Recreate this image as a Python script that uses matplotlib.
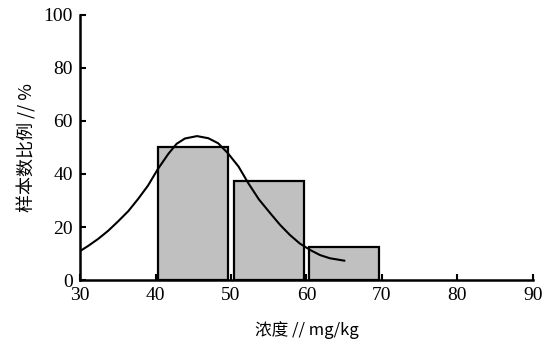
import matplotlib
matplotlib.use('Agg')
import matplotlib.pyplot as plt

# histogram bins (mg/kg) and share of samples (%)
bin_centers = [45, 55, 65]
bin_share = [50.0, 37.5, 12.5]

# fitted curve, points
curve_x = [30.0, 31.1, 32.4, 33.7, 35.0, 36.4, 37.7, 39.0, 40.3, 41.7, 42.8,
           43.9, 45.5, 47.0, 48.3, 49.6, 51.0, 52.3, 53.7, 55.2, 56.5, 57.8,
           59.1, 60.5, 61.8, 63.1, 65.0]
curve_y = [10.9, 12.9, 15.5, 18.5, 22.0, 26.0, 30.6, 35.6, 41.8, 47.6, 51.4,
           53.4, 54.3, 53.5, 51.6, 47.8, 42.8, 36.5, 30.4, 25.2, 20.8, 17.0,
           13.8, 11.3, 9.4, 8.2, 7.3]

xticks = [30, 40, 50, 60, 70, 80, 90]
yticks = [0, 20, 40, 60, 80, 100]

cjk = ['Noto Sans CJK SC', 'DejaVu Sans']
num_font = 'Liberation Serif'

fig = plt.figure(figsize=(5.56, 3.48), dpi=100)
ax = fig.add_axes([0.1439, 0.1954, 0.9586 - 0.1439, 0.9569 - 0.1954])

ax.bar(bin_centers, bin_share, width=9.3, color='#c0c0c0',
       edgecolor='black', linewidth=1.6, zorder=2)
ax.plot(curve_x, curve_y, color='black', linewidth=1.5, zorder=3,
        solid_joinstyle='round')

ax.set_xlim(30, 90)
ax.set_ylim(0, 100)
ax.set_xticks(xticks)
ax.set_yticks(yticks)
ax.set_xticklabels([str(t) for t in xticks], fontfamily=num_font, fontsize=14)
ax.set_yticklabels([str(t) for t in yticks], fontfamily=num_font, fontsize=14)
ax.tick_params(direction='in', length=4, width=1.5, pad=5)

for side in ['top', 'right']:
    ax.spines[side].set_visible(False)
for side in ['left', 'bottom']:
    ax.spines[side].set_linewidth(1.8)

ax.set_xlabel('浓度 // mg/kg', family=cjk, fontsize=12, labelpad=12)
ax.set_ylabel('样本数比例 // %', family=cjk, fontsize=13, labelpad=5)

fig.savefig('out.png', dpi=100)
